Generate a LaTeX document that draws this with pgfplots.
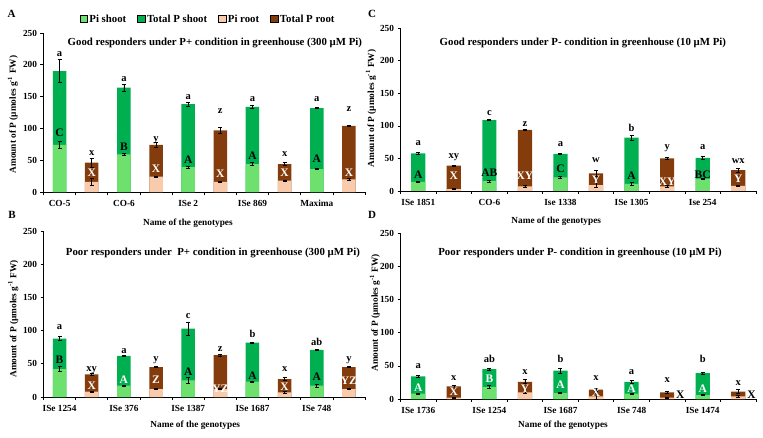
\documentclass[border=0pt]{standalone}
\usepackage{pgfplots}
\pgfplotsset{compat=1.18}
\usepackage{fontspec}
\setmainfont{Liberation Serif}
\definecolor{pishoot}{RGB}{110,224,110}
\definecolor{totshoot}{RGB}{0,176,80}
\definecolor{piroot}{RGB}{248,203,173}
\definecolor{totroot}{RGB}{132,60,12}
\newcommand{\fs}[1]{\fontsize{#1}{#1}\selectfont\bfseries}
\pgfplotsset{
  panel/.style={
    scale only axis, anchor=south west,
    xmin=-0.5, xmax=9.5, ymin=0, ymax=250,
    axis x line=bottom, axis y line=left,
    axis line style={-, black, line width=0.7pt},
    ytick={0,50,...,250},
    xtick={-0.5,0.5,...,9.5},
    tick align=outside, major tick length=3pt,
    tick style={black, line width=0.7pt},
    /pgf/number format/assume math mode=true,
    ticklabel style={font=\fs{9.3}},
    label style={font=\fs{9.3}},
    every axis title/.style={font=\fs{10.8}, anchor=center},
    ylabel={Amount of P (µmoles g\textsuperscript{-1} FW)},
    xlabel={Name of the genotypes},
    clip=false,
  },
  bars/.style 2 args={ybar, bar shift=0pt, bar width=#2, draw=none, fill=#1, forget plot,
    error bars/.cd, y dir=both, y explicit,
    error bar style={black, line width=0.6pt},
    error mark options={rotate=90, black, mark size=2pt, line width=0.6pt}},
  labs/.style 2 args={draw=none, mark=none, forget plot,
    nodes near coords, point meta=explicit symbolic,
    every node near coord/.append style={anchor=base, inner sep=0pt, font=\fs{#1}, text=#2}},
  sq/.style={legend image code/.code={\fill (0pt,-3.6pt) rectangle (7.3pt,3.6pt);}},
}
\begin{document}
\begin{tikzpicture}
\path[use as bounding box] (0,0) rectangle (763pt,437pt);
% ---------------- A ----------------
\begin{axis}[panel, at={(43.5pt,245pt)}, width=321.5pt, height=159pt,
  xticklabels={CO-5,,CO-6,,ISe 2,,ISe 869,,Maxima,,},
  xticklabel style={xshift=16.1pt, yshift=-2pt},
  title={Good responders under P+ condition in greenhouse (300 µM Pi)},
  title style={at={(axis description cs:0.533,0.936)}},
  xlabel style={at={(axis description cs:0.449,-0.195)}, anchor=center},
  ylabel style={at={(axis description cs:-0.095,0.487)}, anchor=center},
  legend columns=4,
  legend style={at={(axis description cs:0.512,1.088)}, anchor=center, draw=none, fill=none,
    font=\fs{10.8}, /tikz/every even column/.append style={column sep=9pt}},
]
\addplot[bars={totshoot}{0.42}] coordinates {(0,190) +- (0,18) (2,164) +- (0,5) (4,138) +- (0,3) (6,134) +- (0,3) (8,132) +- (0,1)};
\addplot[bars={pishoot}{0.42}] coordinates {(0,74) +- (0,6) (2,59) +- (0,2) (4,39) +- (0,2) (6,44) +- (0,2) (8,36) +- (0,1)};
\addplot[bars={totroot}{0.42}] coordinates {(1,46) +- (0,7) (3,74) +- (0,4) (5,97) +- (0,4) (7,44) +- (0,2) (9,104) +- (0,1)};
\addplot[bars={piroot}{0.42}] coordinates {(1,16) +- (0,6) (3,24) +- (0,1) (5,16) +- (0,1) (7,18) +- (0,1) (9,20) +- (0,1)};
\addplot[labs={10.5}{black}] coordinates {(0,213) [a] (1,58) [x] (2,173) [a] (3,80) [y] (4,145) [a] (5,124) [z] (6,142) [a] (7,55.5) [x] (8,142) [a] (9,127) [z]};
\addplot[labs={11.5}{black}] coordinates {(0,86.6) [C] (2,64.5) [B] (4,45) [A] (6,51) [A] (8,46) [A]};
\addplot[labs={11.5}{white}] coordinates {(1,24) [X] (3,30) [X] (5,23) [X] (7,24) [X] (9,25) [X]};
\addlegendimage{sq, fill=pishoot}\addlegendentry{Pi shoot}
\addlegendimage{sq, fill=totshoot}\addlegendentry{Total P shoot}
\addlegendimage{sq, fill=piroot}\addlegendentry{Pi root}
\addlegendimage{sq, fill=totroot}\addlegendentry{Total P root}
\end{axis}
% ---------------- C ----------------
\begin{axis}[panel, at={(400.5pt,246pt)}, width=355.5pt, height=162.7pt,
  xticklabels={ISe 1851,,CO-6,,Ise 1338,,ISe 1305,,Ise 254,,},
  xticklabel style={xshift=17.8pt, yshift=-2pt},
  title={Good responders under P- condition in greenhouse (10 µM Pi)},
  title style={at={(axis description cs:0.513,0.908)}},
  xlabel style={at={(axis description cs:0.438,-0.184)}, anchor=center},
  ylabel style={at={(axis description cs:-0.083,0.507)}, anchor=center},
]
\addplot[bars={totshoot}{0.4}] coordinates {(0,58) +- (0,2) (2,109) +- (0,1) (4,57) +- (0,1) (6,82) +- (0,4) (8,51) +- (0,2)};
\addplot[bars={pishoot}{0.4}] coordinates {(0,14) +- (0,1) (2,15) +- (0,1) (4,21) +- (0,2) (6,11) +- (0,2) (8,19) +- (0,1)};
\addplot[bars={totroot}{0.4}] coordinates {(1,39) +- (0,1) (3,94) +- (0,1) (5,27) +- (0,5) (7,50) +- (0,2) (9,32) +- (0,3)};
\addplot[bars={piroot}{0.4}] coordinates {(1,3) +- (0,1) (3,7) +- (0,1) (5,9) +- (0,4) (7,7) +- (0,1) (9,8) +- (0,1)};
\addplot[labs={10.5}{black}] coordinates {(0,69.6) [a] (1,50) [xy] (2,116.7) [c] (3,98.8) [z] (4,68) [a] (5,43.5) [w] (6,91) [b] (7,64.5) [y] (8,64) [a] (9,42.5) [wx]};
\addplot[labs={11.5}{black}] coordinates {(0,19.5) [A] (2,23) [AB] (4,28) [C] (6,18) [A] (8,19.5) [BC]};
\addplot[labs={11.5}{white}] coordinates {(1,18) [X] (3,17) [XY] (5,12) [Y] (7,9) [XY] (9,12.8) [Y]};
\end{axis}
% ---------------- B ----------------
\begin{axis}[panel, at={(43.5pt,40pt)}, width=321.5pt, height=166pt,
  xticklabels={ISe 1254,,ISe 376,,ISe 1387,,ISe 1687,,ISe 748,,},
  xticklabel style={xshift=16.1pt, yshift=-2pt},
  title={Poor responders under\ \ P+ condition in greenhouse (300 µM Pi)},
  title style={at={(axis description cs:0.527,0.866)}},
  xlabel style={at={(axis description cs:0.472,-0.173)}, anchor=center},
  ylabel style={at={(axis description cs:-0.094,0.47)}, anchor=center},
]
\addplot[bars={totshoot}{0.42}] coordinates {(0,88) +- (0,3) (2,62) +- (0,1) (4,103) +- (0,10) (6,82) +- (0,1) (8,71) +- (0,1)};
\addplot[bars={pishoot}{0.42}] coordinates {(0,42) +- (0,4) (2,17) +- (0,1) (4,25) +- (0,4) (6,23) +- (0,1) (8,17) +- (0,2)};
\addplot[bars={totroot}{0.42}] coordinates {(1,34) +- (0,2) (3,45) +- (0,1) (5,63) +- (0,2) (7,27) +- (0,2) (9,45) +- (0,1)};
\addplot[bars={piroot}{0.42}] coordinates {(1,8) +- (0,1) (3,12) +- (0,1) (5,12) +- (0,1) (7,7) +- (0,1) (9,12) +- (0,1)};
\addplot[labs={10.5}{black}] coordinates {(0,101) [a] (1,39) [xy] (2,65.8) [a] (3,53) [y] (4,118.5) [c] (5,68) [z] (6,90) [b] (7,38) [x] (8,77) [ab] (9,53) [y]};
\addplot[labs={11.5}{black}] coordinates {(0,50) [B] (4,32) [A] (6,26) [A] (8,24.6) [A]};
\addplot[labs={11.5}{white}] coordinates {(2,21) [A] (1,12) [X] (3,20.6) [Z] (5,7) [YZ] (7,10.5) [X] (9,18.6) [YZ]};
\end{axis}
% ---------------- D ----------------
\begin{axis}[panel, at={(400.5pt,38pt)}, width=355.5pt, height=165.7pt,
  xticklabels={ISe 1736,,ISe 1254,,ISe 1687,,ISe 748,,ISe 1474,,},
  xticklabel style={xshift=17.8pt, yshift=-2pt},
  title={Poor responders under P- condition in greenhouse (10 µM Pi)},
  title style={at={(axis description cs:0.505,0.879)}},
  xlabel style={at={(axis description cs:0.457,-0.161)}, anchor=center},
  ylabel style={at={(axis description cs:-0.072,0.52)}, anchor=center},
]
\addplot[bars={totshoot}{0.4}] coordinates {(0,34) +- (0,2) (2,45) +- (0,2) (4,43) +- (0,4) (6,26) +- (0,2) (8,39) +- (0,2)};
\addplot[bars={pishoot}{0.4}] coordinates {(0,8) +- (0,1) (2,18) +- (0,2) (4,9) +- (0,1) (6,8) +- (0,1) (8,6) +- (0,1)};
\addplot[bars={totroot}{0.4}] coordinates {(1,19) +- (0,2) (3,26) +- (0,3) (5,14) +- (0,2) (7,10) +- (0,2) (9,11) +- (0,3)};
\addplot[bars={piroot}{0.4}] coordinates {(1,2) +- (0,1) (3,10) +- (0,2) (5,4) +- (0,4) (7,2) +- (0,1) (9,4) +- (0,1)};
\addplot[labs={10.5}{black}] coordinates {(0,46.3) [a] (1,27.7) [x] (2,55.3) [ab] (3,37) [x] (4,55.3) [b] (5,27.7) [x] (6,37.7) [a] (7,25) [x] (8,55.3) [b] (9,20) [x]};
\addplot[labs={11.5}{white}] coordinates {(0,11.5) [A] (1,5) [X] (2,25) [B] (3,10) [Y] (4,16) [A] (5,3.5) [X] (6,10.5) [A] (8,10.5) [A]};
\addplot[labs={11.5}{black}, every node near coord/.append style={anchor=base west}] coordinates {(7.25,1) [X] (9.25,1) [X]};
\end{axis}
% panel letters
\node[font=\fs{11}] at (11.5pt,423pt) {A};
\node[font=\fs{11}] at (372pt,423pt) {C};
\node[font=\fs{11}] at (12pt,222pt) {B};
\node[font=\fs{11}] at (372pt,222pt) {D};
\end{tikzpicture}
\end{document}
